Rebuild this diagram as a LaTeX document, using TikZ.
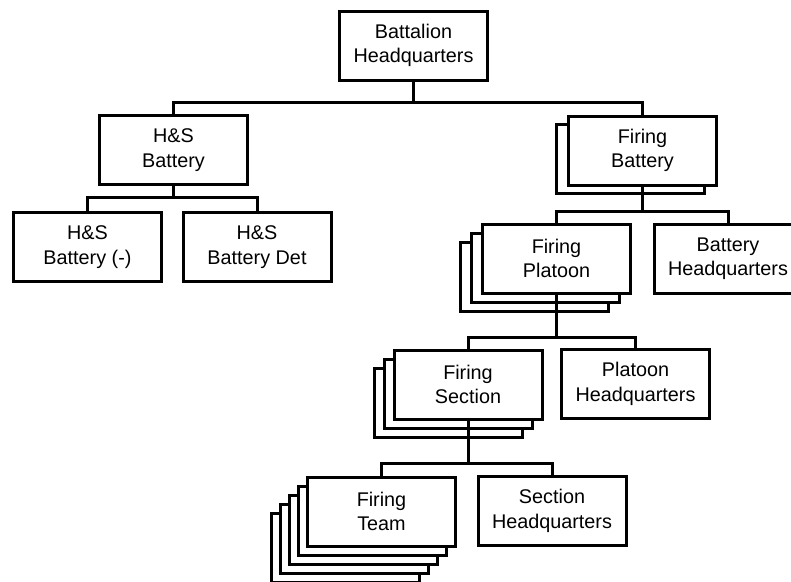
\documentclass[tikz,border=0pt]{standalone}
\usepackage{fontspec}
\setmainfont{Liberation Sans}
\begin{document}
\begin{tikzpicture}[x=1pt,y=-1pt,
  every node/.style={font=\fontsize{19.8}{24.5}\selectfont},
  unit/.style={draw,line width=3pt,fill=white,minimum width=148pt,minimum height=69pt,align=center,inner sep=0pt},
  link/.style={line width=3pt}]
\useasboundingbox (0,0) rectangle (791,581);
% battalion
\node[unit] (bhq) at (413.5,45.5) {Battalion\\Headquarters};
% H&S side
\node[unit] (hsb) at (173.5,150) {H\&S\\Battery};
\node[unit] (hsm) at (87.5,247) {H\&S\\Battery (-)};
\node[unit] (hsd) at (257,247) {H\&S\\Battery Det};
% firing battery
\node[unit] (fb1) at (630.5,158.5) {};
\node[unit] (fb) at (642.5,150.5) {Firing\\Battery};
\node[unit] (bhqb) at (728,258.5) {Battery\\Headquarters};
% firing platoon
\foreach \k in {2,1} \node[unit] (fp\k) at ({556.5-11*\k},{258.5+9*\k}) {};
\node[unit] (fp) at (556.5,258.5) {Firing\\Platoon};
\node[unit] (phq) at (635.5,384) {Platoon\\Headquarters};
% firing section
\foreach \k in {2,1} \node[unit] (fs\k) at ({468-10*\k},{384.5+9*\k}) {};
\node[unit] (fs) at (468,384.5) {Firing\\Section};
\node[unit] (shq) at (552,511) {Section\\Headquarters};
% firing team
\foreach \k in {4,...,1} \node[unit] (ft\k) at ({381.5-9*\k},{511.5+9*\k}) {};
\node[unit] (ft) at (381.5,511.5) {Firing\\Team};
% buses
\coordinate (b0) at (0,102);
\coordinate (b1) at (0,197);
\coordinate (b2) at (0,211);
\coordinate (b3) at (0,337);
\coordinate (b4) at (0,463);
\draw[link] (bhq.south) -- (bhq.south |- b0);
\draw[link] (hsb.north) -- (hsb.north |- b0) -- (fb.north |- b0) -- (fb.north);
\draw[link] (hsb.south) -- (hsb.south |- b1);
\draw[link] (hsm.north) -- (hsm.north |- b1) -- (hsd.north |- b1) -- (hsd.north);
\draw[link] (fb.south) -- (fb.south |- b2);
\draw[link] (fp.north) -- (fp.north |- b2) -- (bhqb.north |- b2) -- (bhqb.north);
\draw[link] (fp.south) -- (fp.south |- b3);
\draw[link] (fs.north) -- (fs.north |- b3) -- (phq.north |- b3) -- (phq.north);
\draw[link] (fs.south) -- (fs.south |- b4);
\draw[link] (ft.north) -- (ft.north |- b4) -- (shq.north |- b4) -- (shq.north);
\end{tikzpicture}
\end{document}
